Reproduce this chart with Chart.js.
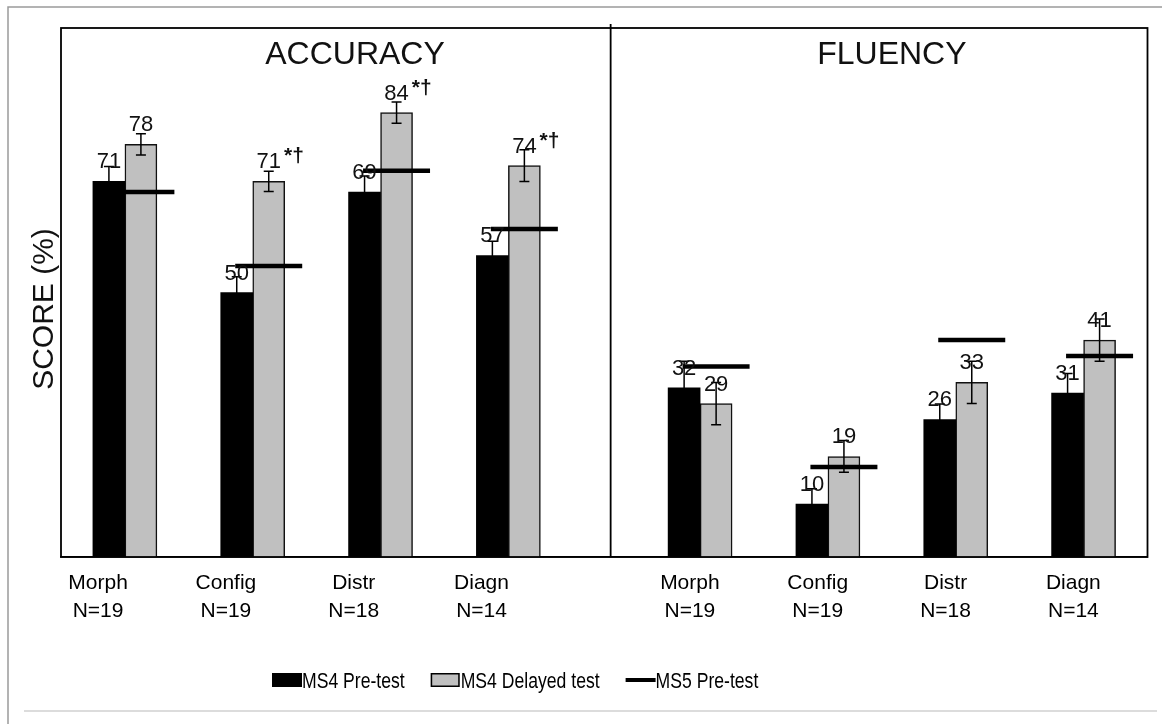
<!DOCTYPE html>
<html>
<head>
<meta charset="utf-8">
<script src="https://cdn.jsdelivr.net/npm/chart.js@4.4.1/dist/chart.umd.min.js"></script>
<style>
  html, body { margin: 0; padding: 0; background: #fff; }
  #wrap { position: relative; width: 1162px; height: 724px; }
</style>
</head>
<body>
<div id="wrap"><canvas id="chart1"></canvas></div>
<script>
// ---- data ----
const categories = ['Morph', 'Config', 'Distr', 'Diagn'];
const groupSizes = ['N=19', 'N=19', 'N=18', 'N=14'];
const panelTitles = ['ACCURACY', 'FLUENCY'];
const seriesNames = ['MS4 Pre-test', 'MS4 Delayed test', 'MS5 Pre-test'];

const accuracyPre = [71, 50, 69, 57];
const accuracyPreErr = [2.8, 3.0, 3.0, 2.7];
const accuracyDelayed = [78, 71, 84, 74];
const accuracyDelayedErr = [2.0, 1.9, 2.0, 3.0];
const accuracyMs5 = [69, 55, 73, 62];
const accuracyMarks = ['', '*†', '*†', '*†'];

const fluencyPre = [32, 10, 26, 31];
const fluencyPreErr = [5.0, 2.9, 2.9, 3.7];
const fluencyDelayed = [29, 19, 33, 41];
const fluencyDelayedErr = [4.0, 3.0, 4.0, 4.0];
const fluencyMs5 = [36, 17, 41, 38];
const fluencyMarks = ['', '', '', ''];

// both panels share one x scale
const pre = accuracyPre.concat(fluencyPre);
const preErr = accuracyPreErr.concat(fluencyPreErr);
const delayed = accuracyDelayed.concat(fluencyDelayed);
const delayedErr = accuracyDelayedErr.concat(fluencyDelayedErr);
const ms5 = accuracyMs5.concat(fluencyMs5);
const marks = accuracyMarks.concat(fluencyMarks);
const catAll = categories.concat(categories);
const sizeAll = groupSizes.concat(groupSizes);

// slot position of a group: half a slot gap between the two panels
function groupPos(g) { return g < 4 ? g + 0.5 : g + 1; }
const HALF_BAR = 0.125;            // half a bar, in slot units
const LABEL_SHIFT = [-0.21, -0.08]; // category labels sit a bit left, per panel
const FONT = "'Liberation Sans', Arial, sans-serif";

const decor = {
  id: 'decor',
  beforeDraw(chart) {
    const c = chart.ctx;
    c.save();
    c.fillStyle = '#fff';
    c.fillRect(0, 0, chart.width, chart.height);
    c.strokeStyle = '#9a9a9a';
    c.lineWidth = 1.5;
    c.beginPath();
    c.moveTo(8, 724); c.lineTo(8, 7); c.lineTo(1162, 7);
    c.stroke();
    c.strokeStyle = '#d0d0d0';
    c.beginPath();
    c.moveTo(24, 711); c.lineTo(1157, 711);
    c.stroke();
    c.restore();
  },
  afterDatasetsDraw(chart) {
    const c = chart.ctx;
    const xs = chart.scales.x, ys = chart.scales.y;
    const a = chart.chartArea;
    c.save();

    // error bars
    const errs = [preErr, delayedErr];
    const vals = [pre, delayed];
    c.strokeStyle = '#000';
    c.lineWidth = 1.5;
    [0, 1].forEach(d => {
      chart.getDatasetMeta(d).data.forEach((el, g) => {
        const yt = ys.getPixelForValue(vals[d][g] + errs[d][g]);
        const yb = ys.getPixelForValue(vals[d][g] - errs[d][g]);
        c.beginPath();
        c.moveTo(el.x, yt); c.lineTo(el.x, yb);
        c.moveTo(el.x - 5, yt); c.lineTo(el.x + 5, yt);
        c.moveTo(el.x - 5, yb); c.lineTo(el.x + 5, yb);
        c.stroke();
      });
    });

    // value labels
    c.fillStyle = '#111';
    c.textBaseline = 'alphabetic';
    [0, 1].forEach(d => {
      chart.getDatasetMeta(d).data.forEach((el, g) => {
        const txt = String(vals[d][g]);
        const y = ys.getPixelForValue(vals[d][g]) - 13;
        c.font = '22px ' + FONT;
        c.textAlign = 'center';
        c.fillText(txt, el.x, y);
        if (d === 1 && marks[g]) {
          const w = c.measureText(txt).width;
          c.font = 'bold 21px ' + FONT;
          c.textAlign = 'left';
          c.fillText(marks[g], el.x + w / 2 + 3, y - 6);
        }
      });
    });

    // plot frame and panel divider
    c.strokeStyle = '#000';
    c.lineWidth = 1.8;
    c.strokeRect(a.left, a.top, a.right - a.left, a.bottom - a.top);
    const xd = xs.getPixelForValue(4.3);
    c.beginPath();
    c.moveTo(xd, a.top - 4); c.lineTo(xd, a.bottom);
    c.stroke();

    // panel titles
    c.font = '32px ' + FONT;
    c.textAlign = 'center';
    c.fillText(panelTitles[0], xs.getPixelForValue(2.3), 64);
    c.fillText(panelTitles[1], xs.getPixelForValue(6.5), 64);

    // y axis title
    c.save();
    c.translate(53, 309);
    c.rotate(-Math.PI / 2);
    c.font = '30px ' + FONT;
    c.fillText('SCORE (%)', 0, 0);
    c.restore();

    // legend (condensed text like the original)
    const squeeze = 0.8;
    c.font = '22px ' + FONT;
    c.textAlign = 'left';
    let x = 272;
    const ly = 680;
    seriesNames.forEach((name, i) => {
      c.strokeStyle = '#000';
      if (i === 0) {
        c.fillStyle = '#000';
        c.fillRect(x, ly - 7, 30, 14);
      } else if (i === 1) {
        c.fillStyle = '#c0c0c0';
        c.fillRect(x, ly - 7, 29, 14);
        c.lineWidth = 1.5;
        c.strokeRect(x + 0.75, ly - 6.25, 27.5, 12.5);
      } else {
        c.lineWidth = 4;
        c.beginPath();
        c.moveTo(x, ly); c.lineTo(x + 30, ly);
        c.stroke();
      }
      x += 30;
      c.fillStyle = '#000';
      c.save();
      c.translate(x, ly + 8);
      c.scale(squeeze, 1);
      c.fillText(name, 0, 0);
      c.restore();
      x += c.measureText(name).width * squeeze + 26;
    });
    c.restore();
  }
};

new Chart(document.getElementById('chart1'), {
  type: 'bar',
  data: {
    datasets: [
      {
        label: seriesNames[0],
        data: pre.map((v, g) => ({ x: groupPos(g), y: v })),
        backgroundColor: '#000',
        borderWidth: 0,
        order: 2
      },
      {
        label: seriesNames[1],
        data: delayed.map((v, g) => ({ x: groupPos(g), y: v })),
        backgroundColor: '#c0c0c0',
        borderColor: '#111',
        borderWidth: 1.5,
        order: 2
      },
      {
        type: 'scatter',
        label: seriesNames[2],
        data: ms5.map((v, g) => ({ x: groupPos(g) + HALF_BAR, y: v })),
        pointStyle: 'line',
        radius: 33.5,
        borderWidth: 4.5,
        borderColor: '#000',
        order: 1
      }
    ]
  },
  options: {
    responsive: true,
    maintainAspectRatio: false,
    animation: false,
    events: [],
    layout: { autoPadding: false, padding: { left: 61, right: 14.5, top: 28, bottom: 77 } },
    plugins: { legend: { display: false }, tooltip: { enabled: false } },
    datasets: { bar: { barThickness: 32 } },
    scales: {
      x: {
        type: 'linear',
        min: 0,
        max: 8.5,
        offset: false,
        grid: { display: false, drawTicks: false },
        border: { display: true, color: '#000', width: 1.5 },
        afterBuildTicks: s => {
          s.ticks = catAll.map((_, g) => ({ value: groupPos(g) + LABEL_SHIFT[g < 4 ? 0 : 1] }));
        },
        afterFit: s => { s.height = 90; },
        ticks: {
          autoSkip: false,
          maxRotation: 0,
          padding: 12,
          color: '#000',
          font: { family: FONT, size: 21, lineHeight: 28 / 21 },
          callback: (v, i) => [catAll[i], sizeAll[i]]
        }
      },
      y: { display: false, min: 0, max: 100 }
    }
  },
  plugins: [decor]
});
</script>
</body>
</html>
